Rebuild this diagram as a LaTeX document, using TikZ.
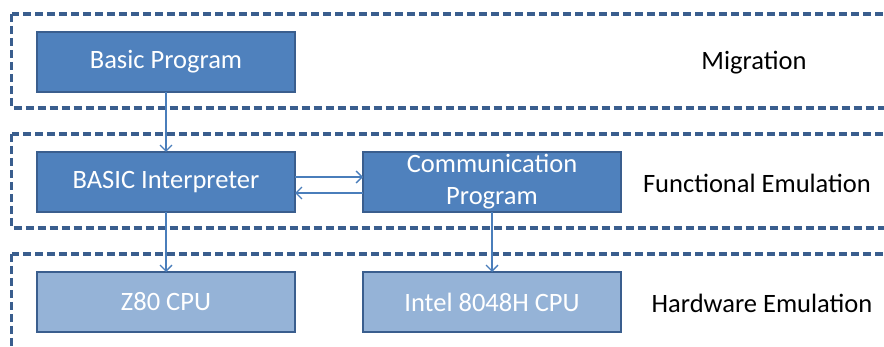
\documentclass[tikz,border=0pt]{standalone}
\usepackage{fontspec}
\setmainfont{Carlito}
\usetikzlibrary{positioning, arrows.meta}
\definecolor{boxblue}{HTML}{4F81BD}
\definecolor{boxlight}{HTML}{95B3D7}
\definecolor{boxedge}{HTML}{3A5E8E}
\definecolor{linkblue}{HTML}{4A7EBB}

\begin{document}
\begin{tikzpicture}[x=1pt, y=-1pt, node distance=60pt and 68pt]
    % Define styles
    \tikzstyle{module} = [rectangle, minimum width=258pt, minimum height=60pt, inner sep=1pt, outer sep=0pt, text centered, draw=boxedge, line width=2.5pt, fill=boxblue, text=white, font=\fontsize{26.5}{32}\selectfont]
    \tikzstyle{hardware} = [module, fill=boxlight]
    \tikzstyle{layer} = [draw=boxedge, line width=3.2pt, dash pattern=on 8pt off 4pt]
    \tikzstyle{level} = [text=black, font=\fontsize{26.5}{32}\selectfont]
    \tikzstyle{arrow} = [draw=linkblue, line width=1.4pt, -{Straight Barb[length=6pt,width=12pt]}]

    \useasboundingbox (0,0) rectangle (884,347);
    \clip (0,0) rectangle (884,347);

    % Nodes
    \node (basic) [module] at (166,62) {Basic Program};
    \node (interp) [module, below=of basic] {BASIC Interpreter};
    \node (comm) [module, right=of interp, align=center] {Communication\\Program};
    \node (z80) [hardware, below=of interp] {Z80 CPU};
    \node (intel) [hardware, below=of comm] {Intel 8048H CPU};

    \node (mig) [level] at (754,63) {Migration};
    \node (func) [level] at (757,183) {Functional Emulation};
    \node (hw) [level] at (762,303) {Hardware Emulation};

    % Layers
    \draw [layer] ([shift={(-25.5,-18)}]basic.north west) rectangle ([shift={(700,16)}]basic.south east);
    \draw [layer] ([shift={(-25.5,-18)}]interp.north west) rectangle ([shift={(700,16)}]interp.south east);
    \draw [layer] ([shift={(-25.5,-18)}]z80.north west) rectangle ([shift={(700,40)}]z80.south east);

    % Arrows
    \draw [arrow] (basic) -- (interp);
    \draw [arrow] (interp) -- (z80);
    \draw [arrow] (comm) -- (intel);
    \draw [arrow] ([yshift=5pt]interp.east) -- ([yshift=5pt]comm.west);
    \draw [arrow] ([yshift=-11pt]comm.west) -- ([yshift=-11pt]interp.east);
\end{tikzpicture}
\end{document}
